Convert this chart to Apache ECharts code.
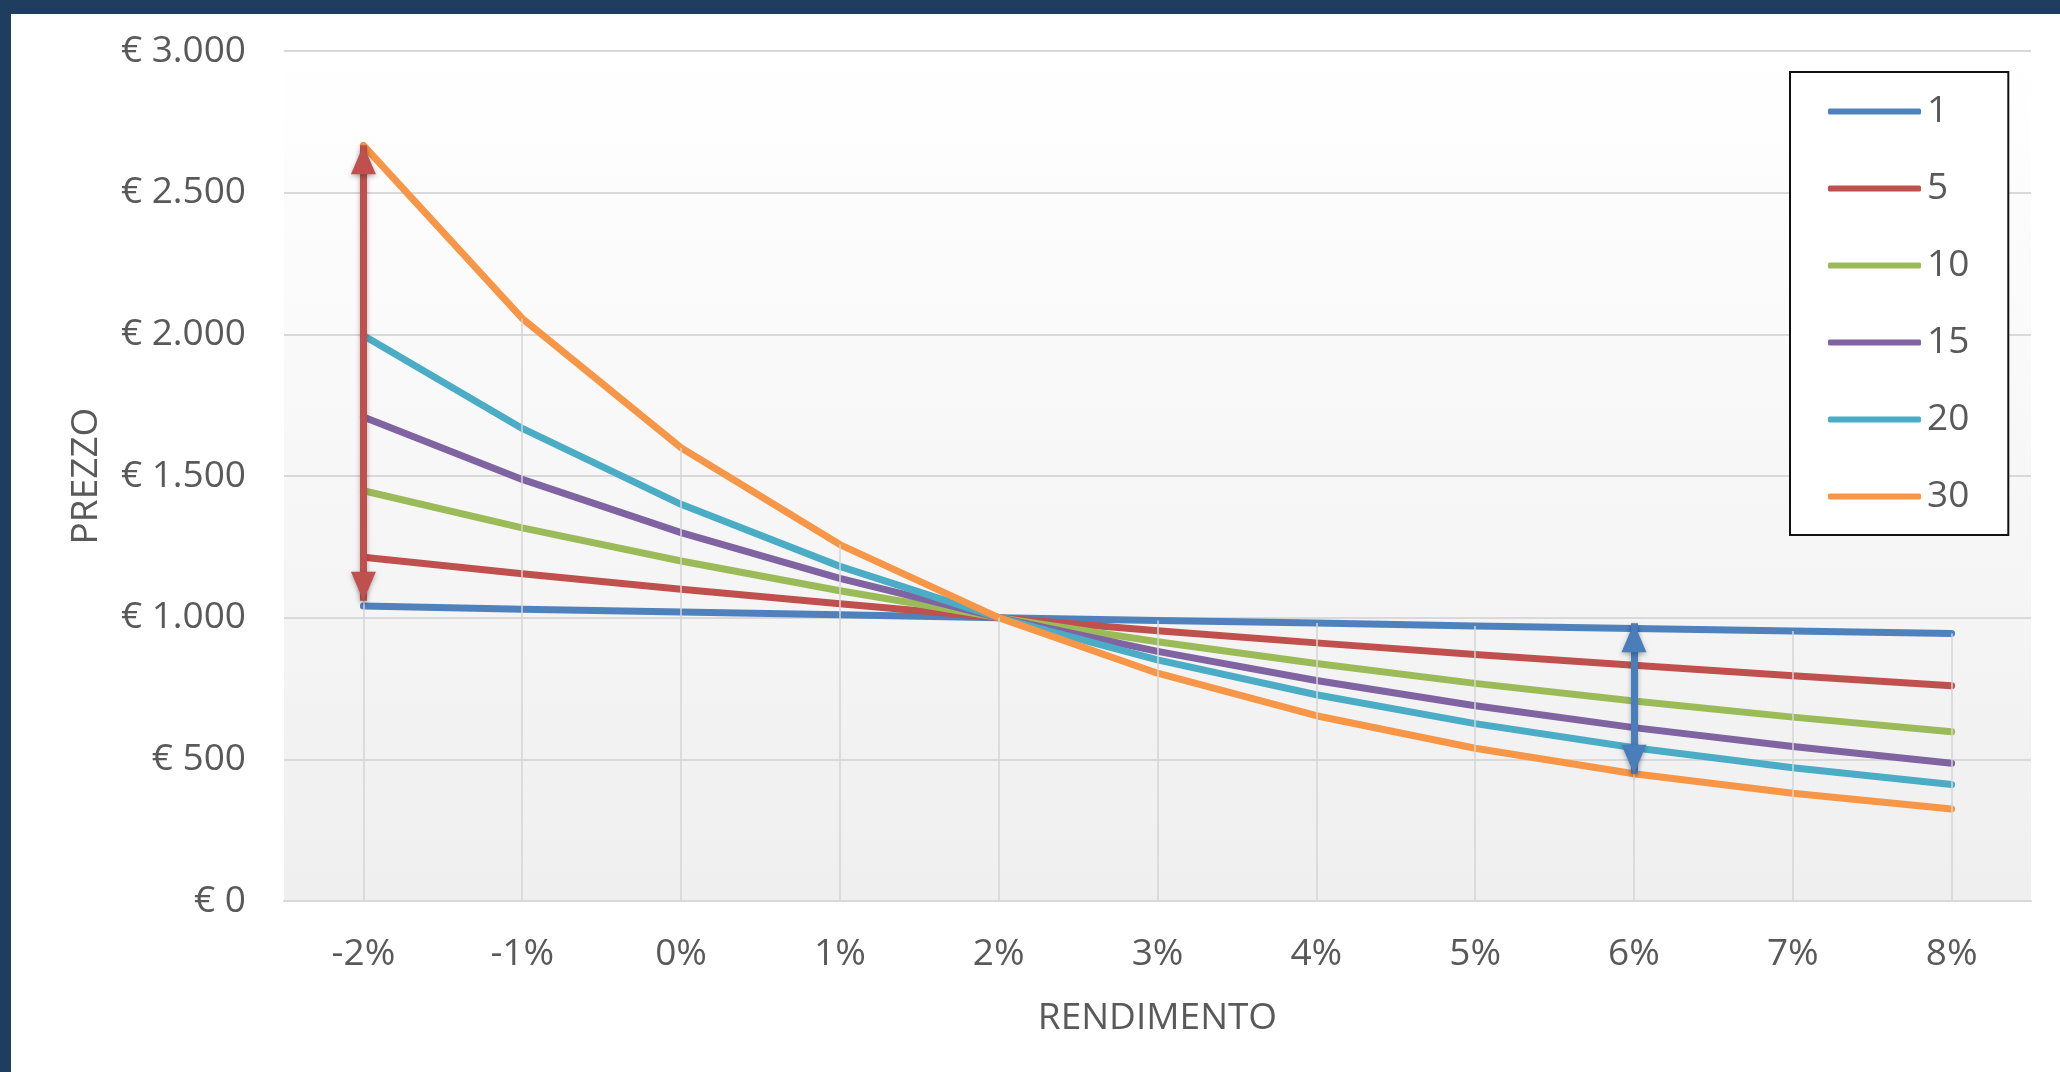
<!DOCTYPE html>
<html>
<head>
<meta charset="utf-8">
<title>Prezzo e rendimento</title>
<script src="https://cdn.jsdelivr.net/npm/echarts@6/dist/echarts.min.js"></script>
<style>
  html, body { margin: 0; padding: 0; background: #ffffff; }
  #chart { position: absolute; left: 0; top: 0; width: 2060px; height: 1072px; }
  .frame-top { position: absolute; left: 0; top: 0; width: 2060px; height: 14px; background: #1e3d5f; }
  .frame-left { position: absolute; left: 0; top: 0; width: 11px; height: 1072px; background: #1e3d5f; }
</style>
</head>
<body>
<div id="chart"></div>
<div class="frame-top"></div>
<div class="frame-left"></div>
<script>
// Rendimento (yield) categories on the x axis
const yieldLabels = ['-2%', '-1%', '0%', '1%', '2%', '3%', '4%', '5%', '6%', '7%', '8%'];

// Price of the bond for each maturity (years), one value per yield
const maturity1  = [1041, 1030, 1020, 1010, 1000, 990, 981, 971, 962, 953, 944];
const maturity5  = [1213, 1155, 1100, 1049, 1000, 954, 911, 870, 832, 795, 760];
const maturity10 = [1448, 1317, 1200, 1095, 1000, 915, 838, 768, 706, 649, 597];
const maturity15 = [1708, 1488, 1300, 1139, 1000, 881, 778, 689, 612, 545, 486];
const maturity20 = [1996, 1668, 1400, 1181, 1000, 851, 728, 626, 541, 470, 411];
const maturity30 = [2667, 2056, 1600, 1258, 1000, 804, 654, 539, 449, 380, 325];

const seriesNames = ['1', '5', '10', '15', '20', '30'];
const seriesValues = [maturity1, maturity5, maturity10, maturity15, maturity20, maturity30];
const seriesColors = ['#4f81bd', '#c0504d', '#9bbb59', '#8064a2', '#4bacc6', '#f79646'];

// Double-headed arrows: [category, upper value, lower value]
const spreadLow  = ['-2%', 2667, 1060];
const spreadHigh = ['6%', 980, 449];

// Y axis ticks
const priceMin = 0, priceMax = 3000, priceStep = 500;

const textColor = '#595959';
const fontFamily = '"Open Sans", "DejaVu Sans", sans-serif';
const fontSize = 37;

function euro(v) {
  return '€ ' + String(v).replace(/\B(?=(\d{3})+(?!\d))/g, '.');
}

// Drop lines: from the highest series value of each category down to the axis
const dropLines = yieldLabels.map((c, i) => {
  const top = Math.max.apply(null, seriesValues.map(s => s[i]));
  return [{ coord: [c, top] }, { coord: [c, 0] }];
});

const lineSeries = seriesNames.map((name, k) => ({
  name: name,
  type: 'line',
  data: seriesValues[k],
  symbol: 'none',
  showSymbol: false,
  z: 3,
  color: seriesColors[k],
  itemStyle: { color: seriesColors[k] },
  lineStyle: { width: 7, color: seriesColors[k], cap: 'round', join: 'round' },
  emphasis: { disabled: true }
}));

// Vertical double arrow: a shaft (markLine) with a triangular head at each end (markPoint);
// the heads are shifted so that their tips sit exactly on the two values.
function arrow(spec, color) {
  const shadow = { shadowBlur: 5, shadowColor: 'rgba(0,0,0,0.3)', shadowOffsetY: 2 };
  const headW = 25, headH = 29;
  return {
    type: 'line',
    data: [],
    z: 5,
    silent: true,
    markLine: {
      silent: true,
      symbol: ['none', 'none'],
      label: { show: false },
      lineStyle: Object.assign({ type: 'solid', width: 7, color: color }, shadow),
      emphasis: { disabled: true },
      data: [[{ coord: [spec[0], spec[1]] }, { coord: [spec[0], spec[2]] }]]
    },
    markPoint: {
      silent: true,
      symbol: 'triangle',
      symbolSize: [headW, headH],
      label: { show: false },
      itemStyle: Object.assign({ color: color }, shadow),
      emphasis: { disabled: true },
      data: [
        { coord: [spec[0], spec[1]], symbolOffset: [0, headH / 2] },
        { coord: [spec[0], spec[2]], symbolRotate: 180, symbolOffset: [0, -headH / 2] }
      ]
    }
  };
}

const chart = echarts.init(document.getElementById('chart'), null, { renderer: 'canvas' });

chart.setOption({
  animation: false,
  textStyle: { fontFamily: fontFamily },
  grid: {
    left: 284, right: 29, top: 51, bottom: 171,
    show: true,
    borderWidth: 0,
    backgroundColor: new echarts.graphic.LinearGradient(0, 0, 0, 1, [
      { offset: 0, color: '#ffffff' },
      { offset: 1, color: '#efefef' }
    ])
  },
  legend: {
    data: seriesNames,
    orient: 'vertical',
    left: 1790,
    top: 72,
    padding: [21, 39, 20, 38],
    itemGap: 40,
    itemWidth: 93,
    itemHeight: 6,
    icon: 'roundRect',
    backgroundColor: '#ffffff',
    borderColor: '#111111',
    borderWidth: 2,
    borderRadius: 0,
    selectedMode: false,
    textStyle: { color: textColor, fontSize: fontSize, fontFamily: fontFamily, padding: [0, 0, 0, 1] }
  },
  xAxis: {
    type: 'category',
    data: yieldLabels,
    boundaryGap: true,
    name: 'RENDIMENTO',
    nameLocation: 'middle',
    nameGap: 99,
    nameTextStyle: { color: textColor, fontSize: fontSize, fontFamily: fontFamily },
    axisLine: { show: true, lineStyle: { color: '#d9d9d9', width: 2 } },
    axisTick: { show: false },
    splitLine: { show: false },
    axisLabel: { color: textColor, fontSize: fontSize, fontFamily: fontFamily, margin: 35 }
  },
  yAxis: {
    type: 'value',
    min: priceMin,
    max: priceMax,
    interval: priceStep,
    name: 'PREZZO',
    nameLocation: 'middle',
    nameGap: 179,
    nameRotate: 90,
    nameTextStyle: { color: textColor, fontSize: fontSize, fontFamily: fontFamily },
    axisLine: { show: false },
    axisTick: { show: false },
    splitLine: { show: true, lineStyle: { color: '#d9d9d9', width: 2 } },
    axisLabel: { color: textColor, fontSize: fontSize, fontFamily: fontFamily, margin: 38, formatter: euro }
  },
  series: [
    {
      type: 'line',
      data: [],
      z: 1,
      silent: true,
      markLine: {
        silent: true,
        symbol: ['none', 'none'],
        label: { show: false },
        lineStyle: { type: 'solid', width: 1.5, color: '#d4d4d4' },
        emphasis: { disabled: true },
        data: dropLines
      }
    }
  ].concat(lineSeries, [
    arrow(spreadLow, '#c0504d'),
    arrow(spreadHigh, '#4a7ebb')
  ])
});
</script>
</body>
</html>
